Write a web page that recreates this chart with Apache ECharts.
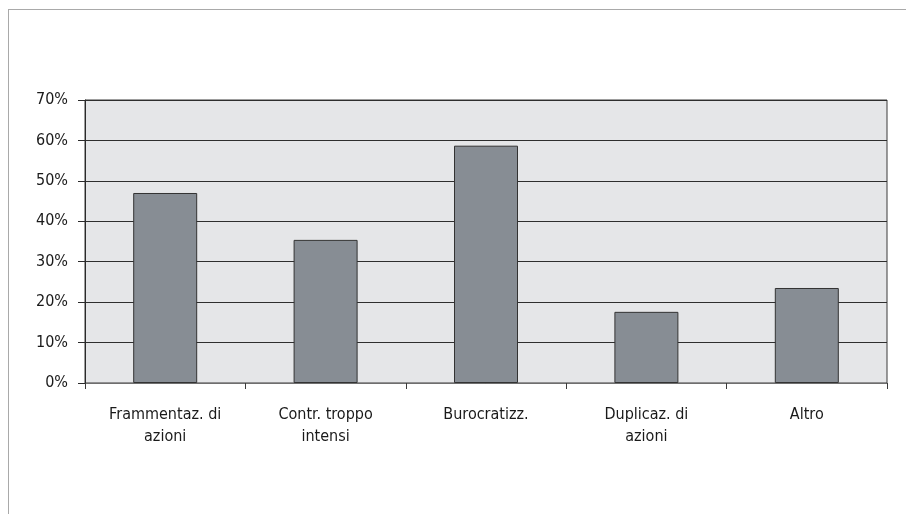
<!DOCTYPE html>
<html>
<head>
<meta charset="utf-8">
<style>
  html, body { margin: 0; padding: 0; background: #ffffff; }
  #chart { width: 906px; height: 514px; }
</style>
<script src="https://cdn.jsdelivr.net/npm/echarts@6/dist/echarts.min.js"></script>
</head>
<body>
<div id="chart"></div>
<script>
// Categories (axis labels) and percentage values per category
const categories = [
  'Frammentaz. di\nazioni',
  'Contr. troppo\nintensi',
  'Burocratizz.',
  'Duplicaz. di\nazioni',
  'Altro'
];
const values = [47.0, 35.4, 58.7, 17.6, 23.5];
const yTicks = { min: 0, max: 70, interval: 10 };

const FONT = '"DejaVu Sans Condensed", "DejaVu Sans", sans-serif';

const chart = echarts.init(document.getElementById('chart'), null, { renderer: 'canvas' });

chart.setOption({
  animation: false,
  backgroundColor: '#ffffff',
  graphic: [
    { type: 'line', shape: { x1: 8, y1: 9.5, x2: 906, y2: 9.5 }, style: { stroke: '#a9a9a9', lineWidth: 1 } },
    { type: 'line', shape: { x1: 8.5, y1: 9, x2: 8.5, y2: 514 }, style: { stroke: '#a9a9a9', lineWidth: 1 } }
  ],
  grid: {
    left: 85, right: 19, top: 100, bottom: 131,
    show: true,
    backgroundColor: '#e5e6e8',
    borderColor: '#3a3a3a',
    borderWidth: 1
  },
  xAxis: {
    type: 'category',
    data: categories,
    boundaryGap: true,
    axisLine: { show: true, lineStyle: { color: '#6e6e6e', width: 1 } },
    axisTick: { show: true, length: 6, lineStyle: { color: '#3a3a3a' } },
    axisLabel: {
      margin: 21,
      color: '#1a1a1a',
      fontFamily: FONT,
      fontSize: 16,
      lineHeight: 22,
      interval: 0,
      align: 'center'
    },
    splitLine: { show: false }
  },
  yAxis: {
    type: 'value',
    min: yTicks.min,
    max: yTicks.max,
    interval: yTicks.interval,
    axisLine: { show: true, lineStyle: { color: '#2a2a2a', width: 1 } },
    axisTick: { show: true, length: 7, lineStyle: { color: '#2a2a2a' } },
    axisLabel: {
      margin: 17,
      color: '#1a1a1a',
      fontFamily: FONT,
      fontSize: 16,
      formatter: v => v + '%'
    },
    splitLine: { show: true, lineStyle: { color: '#2e2e2e', width: 1 } }
  },
  series: [{
    type: 'bar',
    data: values,
    barWidth: 64,
    itemStyle: {
      color: '#878d94',
      borderColor: '#333333',
      borderWidth: 1
    }
  }]
});
</script>
</body>
</html>
